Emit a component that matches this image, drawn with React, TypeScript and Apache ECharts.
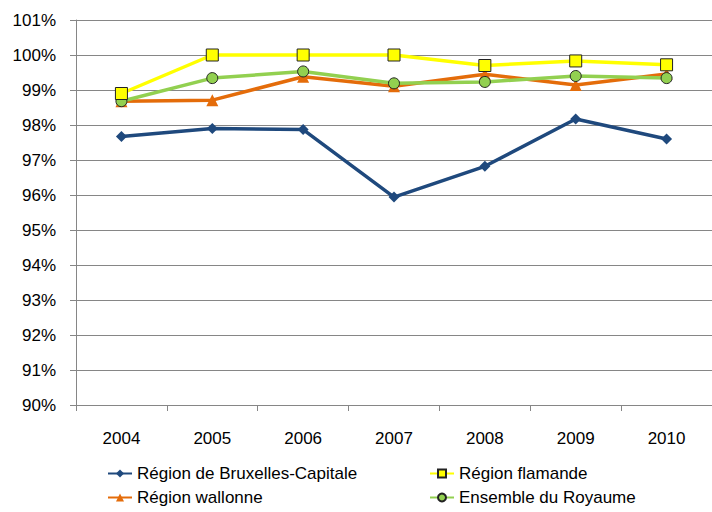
import React, { useEffect, useRef } from "react";
import * as echarts from "echarts";

const years = ["2004", "2005", "2006", "2007", "2008", "2009", "2010"];
const bruxelles = [97.67, 97.9, 97.87, 95.94, 96.82, 98.17, 97.6];
const flamande = [98.9, 100, 100, 100, 99.7, 99.83, 99.72];
const wallonne = [98.68, 98.71, 99.38, 99.11, 99.45, 99.14, 99.46];
const ensemble = [98.68, 99.34, 99.53, 99.19, 99.23, 99.4, 99.34];

const names = [
  "Région de Bruxelles-Capitale",
  "Région flamande",
  "Région wallonne",
  "Ensemble du Royaume",
];

const FONT = "'Liberation Sans', Arial, sans-serif";
const FS = 17;

export default function App() {
  const ref = useRef<HTMLDivElement>(null);
  useEffect(() => {
    if (!ref.current) return;
    const chart = echarts.init(ref.current, null, { renderer: "svg" });
    const legendBase = {
      orient: "horizontal",
      itemWidth: 24,
      itemHeight: 10,
      itemGap: 0,
      padding: 0,
      textStyle: { fontFamily: FONT, fontSize: FS, color: "#000" },
    };
    chart.setOption({
      animation: false,
      backgroundColor: "#fff",
      grid: { left: 76, right: -10, top: 20, bottom: 107, containLabel: false },
      legend: [
        { ...legendBase, left: 107, top: 465, data: [names[0]] },
        { ...legendBase, left: 429, top: 465, data: [names[1]] },
        { ...legendBase, left: 107, top: 489, data: [names[2]] },
        { ...legendBase, left: 429, top: 489, data: [names[3]] },
      ],
      xAxis: {
        type: "category",
        data: years,
        boundaryGap: true,
        axisLine: { show: true, lineStyle: { color: "#868686", width: 1 } },
        axisTick: { show: true, length: 6, lineStyle: { color: "#868686" } },
        axisLabel: { fontFamily: FONT, fontSize: FS, color: "#000", margin: 25 },
      },
      yAxis: {
        type: "value",
        min: 90,
        max: 101,
        interval: 1,
        axisLine: { show: true, lineStyle: { color: "#868686", width: 1 } },
        axisTick: { show: true, length: 6, lineStyle: { color: "#868686" } },
        splitLine: { show: true, lineStyle: { color: "#868686", width: 1 } },
        axisLabel: {
          formatter: "{value}%",
          fontFamily: FONT,
          fontSize: FS,
          color: "#000",
          margin: 20,
        },
      },
      series: [
        {
          name: names[0],
          type: "line",
          data: bruxelles,
          symbol: "diamond",
          symbolSize: 11,
          lineStyle: { color: "#1F497D", width: 3.5 },
          itemStyle: { color: "#1F497D" },
          z: 2,
        },
        {
          name: names[1],
          type: "line",
          data: flamande,
          symbol: "rect",
          symbolSize: 12,
          lineStyle: { color: "#FFFF00", width: 3.5 },
          itemStyle: { color: "#FFFF00", borderColor: "#222", borderWidth: 1 },
          z: 5,
        },
        {
          name: names[2],
          type: "line",
          data: wallonne,
          symbol: "triangle",
          symbolSize: 12,
          lineStyle: { color: "#E46C0A", width: 3.5 },
          itemStyle: { color: "#E46C0A" },
          z: 3,
        },
        {
          name: names[3],
          type: "line",
          data: ensemble,
          symbol: "circle",
          symbolSize: 11,
          lineStyle: { color: "#92D050", width: 3.5 },
          itemStyle: { color: "#92D050", borderColor: "#222", borderWidth: 1 },
          z: 4,
        },
      ],
    });
    return () => chart.dispose();
  }, []);
  return (
    <div
      ref={ref}
      style={{ position: "fixed", left: 0, top: 0, width: 712, height: 512 }}
    />
  );
}
